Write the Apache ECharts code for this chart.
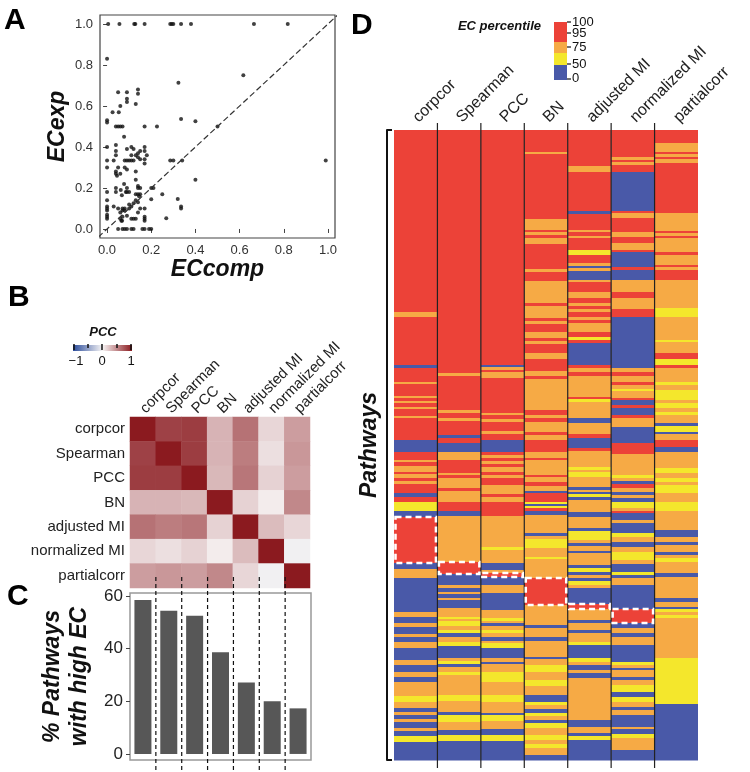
<!DOCTYPE html>
<html>
<head>
<meta charset="utf-8">
<script src="https://cdn.jsdelivr.net/npm/echarts@6/dist/echarts.min.js"></script>
<style>
html,body{margin:0;padding:0;background:#fff}
#main{width:750px;height:772px}
</style>
</head>
<body>
<div id="main"></div>
<script>
var FONT = '"Liberation Sans", Arial, Helvetica, sans-serif';
var chart = echarts.init(document.getElementById('main'));

// method names (panels B, C, D)
var methods = ['corpcor', 'Spearman', 'PCC', 'BN', 'adjusted MI', 'normalized MI', 'partialcorr'];

// panel A: ECcomp vs ECexp
var ecPoints = [
  [0.005,1],[0.056,1],[0.123,1],[0.128,1],[0.17,1],[0.286,1],[0.293,1],[0.30,1],[0.335,1],[0.38,1],[0.665,1],[0.818,1],
  [0,0.83],[0.323,0.714],[0.617,0.75],[0.335,0.536],[0.40,0.526],[0.5,0.5],[0.99,0.334],[0.40,0.24],[0.32,0.146],
  [0.335,0.11],[0.335,0.10],[0.268,0.052],[0.25,0.17],[0.286,0.334],[0.30,0.334],[0.226,0.5],[0.2,0.2],[0.21,0.2],
  [0.2,0.145],[0.2,0],[0.17,0],[0.16,0],[0.17,0.5],[0.34,0.334],
  [0,0.53],[0,0.52],[0,0.4],[0,0.334],[0,0.3],[0,0.18],[0,0.14],[0,0.11],[0,0.1],[0,0.09],[0,0.07],[0,0.06],[0,0.05],
  [0.025,0.57],[0.03,0.11],
  [0.04,0.41],[0.04,0.38],[0.04,0.36],[0.04,0.28],[0.04,0.27],[0.045,0.26],[0.04,0.2],[0.04,0.18],[0.04,0.5],[0.03,0.334],
  [0.05,0.667],[0.053,0.57],[0.05,0.5],[0.05,0.3],[0.05,0.1],[0.05,0],[0.06,0.6],[0.06,0.5],[0.06,0.27],[0.062,0.19],
  [0.06,0.08],[0.06,0.05],[0.065,0.04],
  [0.07,0.5],[0.07,0.1],[0.07,0.09],[0.07,0.06],[0.068,0.04],[0.07,0],[0.067,0.165],
  [0.077,0.45],[0.08,0.334],[0.08,0.3],[0.077,0.22],[0.08,0.1],[0.08,0.09],[0.08,0],[0.085,0.18],
  [0.09,0.667],[0.09,0.62],[0.09,0.635],[0.09,0.39],[0.09,0.334],[0.09,0.29],[0.09,0.2],[0.09,0.18],[0.09,0.065],[0.09,0],
  [0.1,0.334],[0.1,0.18],[0.1,0.12],[0.1,0.1],
  [0.11,0.4],[0.11,0.36],[0.11,0.334],[0.11,0.11],[0.11,0.05],[0.11,0],
  [0.12,0.39],[0.12,0.334],[0.12,0.125],[0.12,0.05],[0.12,0],
  [0.13,0.36],[0.13,0.61],[0.13,0.28],[0.13,0.24],[0.13,0.17],[0.13,0.14],[0.13,0.05],
  [0.14,0.68],[0.14,0.66],[0.14,0.37],[0.14,0.35],[0.14,0.21],[0.14,0.2],[0.14,0.17],[0.145,0.16],[0.14,0.13],[0.14,0.08],[0.15,0.38],
  [0.15,0.34],[0.15,0.2],[0.15,0.17],[0.15,0.1],
  [0.17,0.4],[0.17,0.38],[0.17,0.34],[0.17,0.32],[0.17,0.1],[0.17,0.06],[0.17,0.05],[0.17,0.04],
  [0.18,0.36],[0.19,0]
];
var diagLine = [[-0.1, -0.1], [1.1, 1.1]];
var unitTicks = [0, 0.2, 0.4, 0.6, 0.8, 1.0];

// panel B: PCC between methods
var pccCorpcor  = [1.00, 0.82, 0.84, 0.30, 0.60, 0.14, 0.40];
var pccSpearman = [0.82, 1.00, 0.84, 0.30, 0.55, 0.10, 0.43];
var pccPCC      = [0.84, 0.84, 1.00, 0.28, 0.58, 0.16, 0.40];
var pccBN       = [0.30, 0.30, 0.28, 1.00, 0.16, 0.04, 0.50];
var pccAdjMI    = [0.60, 0.55, 0.58, 0.16, 1.00, 0.26, 0.14];
var pccNormMI   = [0.14, 0.10, 0.16, 0.04, 0.26, 1.00, -0.03];
var pccPartial  = [0.40, 0.43, 0.40, 0.50, 0.14, -0.03, 1.00];
var pccRows = [pccCorpcor, pccSpearman, pccPCC, pccBN, pccAdjMI, pccNormMI, pccPartial];

// panel C: % pathways with high EC
var highEC = [58.4, 54.4, 52.5, 38.6, 27.1, 20.0, 17.3];
var pctTicks = [0, 20, 40, 60];

// panel D: EC percentile class per pathway, runs of [class, end row]
// class 0: 0-50, 1: 50-75, 2: 75-95, 3: 95-100
var colCorpcor = [[3,182],[2,187],[3,235],[0,238],[3,252],[2,254],[3,266],[2,268],[3,271],[2,273],[3,277],[2,279],[3,286],[2,288],[3,310],[0,322],[3,330],[2,332],[3,336],[2,342],[3,344],[2,348],[3,351],[2,354],[3,363],[0,367],[3,372],[1,381],[0,387],[3,433],[0,439],[2,448],[0,482],[2,487],[0,493],[2,497],[0,504],[2,507],[0,512],[2,518],[0,530],[2,535],[0,542],[2,547],[0,552],[2,566],[1,572],[2,578],[0,582],[2,585],[0,589],[2,592],[0,598],[2,601],[0,606],[1,612],[0,630]];
var colSpearman = [[3,243],[2,246],[3,280],[2,283],[3,288],[2,291],[3,305],[0,308],[3,313],[0,322],[2,330],[3,343],[2,345],[3,348],[2,358],[3,361],[2,372],[3,381],[0,386],[2,432],[3,444],[0,455],[2,458],[0,462],[2,464],[0,468],[2,470],[0,478],[2,487],[1,489],[2,491],[1,496],[2,500],[1,503],[0,507],[2,512],[1,516],[0,528],[2,531],[1,534],[0,537],[2,542],[1,545],[2,565],[1,571],[2,582],[0,585],[1,592],[2,600],[0,605],[1,611],[0,630]];
var colPCC = [[3,235],[0,237],[2,240],[3,242],[2,248],[3,283],[2,285],[3,289],[2,292],[3,301],[2,304],[3,310],[0,322],[3,325],[2,328],[3,331],[2,334],[3,337],[2,342],[3,345],[2,348],[3,355],[2,364],[3,367],[2,372],[3,386],[2,417],[1,420],[2,433],[0,440],[2,443],[3,447],[0,455],[2,463],[0,480],[2,488],[1,491],[2,493],[0,496],[2,500],[1,503],[2,507],[0,511],[2,513],[1,518],[0,528],[2,532],[0,534],[2,542],[1,552],[2,565],[1,572],[2,583],[0,585],[1,591],[2,599],[0,605],[1,611],[0,630]];
var colBN = [[3,22],[2,24],[3,89],[2,100],[3,102],[2,105],[3,108],[2,114],[3,139],[2,142],[3,151],[2,173],[3,176],[2,188],[3,191],[2,194],[3,202],[2,208],[3,211],[2,214],[3,223],[2,229],[3,241],[2,246],[3,249],[2,280],[3,285],[2,288],[3,292],[2,302],[3,305],[2,310],[3,322],[2,328],[3,330],[2,345],[3,347],[2,352],[3,356],[2,361],[0,363],[3,372],[1,374],[0,376],[1,378],[3,381],[0,385],[2,403],[0,406],[2,409],[1,418],[2,427],[1,429],[2,448],[3,475],[2,495],[0,498],[2,507],[0,511],[2,527],[0,529],[2,535],[1,542],[2,550],[1,556],[2,565],[0,572],[1,575],[2,579],[0,583],[1,586],[2,590],[0,593],[1,598],[2,605],[1,610],[2,614],[1,618],[2,625],[0,630]];
var colAdjMI = [[3,36],[2,42],[3,81],[0,84],[3,100],[2,102],[3,106],[2,108],[3,120],[1,125],[3,133],[2,136],[0,138],[2,141],[0,150],[2,152],[3,162],[2,168],[3,173],[2,176],[3,179],[2,182],[3,187],[2,190],[3,193],[2,202],[3,207],[1,210],[3,213],[0,235],[3,238],[2,242],[3,246],[2,267],[3,269],[1,272],[2,288],[0,293],[2,304],[3,308],[0,318],[3,321],[2,337],[1,340],[2,342],[1,347],[2,357],[0,360],[2,362],[0,364],[1,367],[0,370],[2,382],[0,387],[2,398],[0,401],[1,410],[2,413],[0,416],[2,421],[0,423],[2,435],[0,438],[1,442],[0,445],[2,448],[0,451],[1,455],[2,458],[0,474],[3,479],[2,490],[0,493],[2,500],[0,503],[2,512],[1,515],[0,528],[1,532],[2,535],[0,540],[2,543],[0,548],[2,590],[0,597],[2,603],[0,606],[1,610],[0,630]];
var colNormMI = [[3,27],[2,30],[3,32],[2,35],[3,42],[0,81],[3,83],[2,88],[3,102],[2,107],[3,113],[2,120],[3,122],[0,137],[3,140],[0,150],[2,162],[3,168],[2,179],[3,187],[0,238],[2,242],[3,246],[2,252],[3,255],[2,259],[1,261],[2,268],[3,270],[0,275],[3,278],[0,285],[3,288],[2,297],[0,313],[3,324],[2,345],[1,348],[2,351],[0,354],[3,358],[2,362],[0,365],[2,368],[0,372],[1,378],[2,381],[3,383],[0,390],[2,393],[0,403],[1,407],[2,412],[0,417],[2,422],[1,430],[2,434],[0,442],[1,445],[0,448],[2,455],[0,479],[3,493],[0,498],[2,503],[0,507],[2,515],[0,532],[1,535],[2,538],[0,540],[2,547],[0,550],[2,555],[1,562],[0,567],[1,572],[2,577],[0,580],[2,585],[0,597],[2,599],[0,604],[1,608],[2,620],[0,630]];
var colPartial = [[3,13],[2,22],[3,24],[2,27],[3,29],[2,33],[3,83],[2,101],[3,103],[2,106],[3,108],[2,122],[3,125],[2,135],[3,137],[2,140],[3,150],[2,178],[1,187],[2,210],[1,212],[2,223],[3,229],[1,235],[3,238],[2,252],[1,255],[2,260],[1,270],[2,273],[1,278],[2,282],[1,285],[2,293],[0,296],[1,302],[0,304],[2,310],[3,317],[0,322],[2,338],[1,343],[2,348],[1,352],[2,355],[1,363],[2,372],[1,381],[2,400],[0,407],[2,412],[0,415],[2,422],[0,425],[2,428],[1,432],[2,443],[0,447],[2,468],[0,472],[2,477],[0,479],[1,482],[2,485],[1,488],[2,528],[1,574],[0,630]];
var pathwayCols = [colCorpcor, colSpearman, colPCC, colBN, colAdjMI, colNormMI, colPartial];
var pathwayCount = 630;
// highlighted blocks: [column, first row, last row]
var bestBlocks = [[0,387,433],[1,432,444],[2,443,447],[3,448,475],[4,474,479],[5,479,493]];

var ecColors = ['#4959A8', '#F4E72C', '#F6AA45', '#EC4238'];

// build series data
var pccData = [];
pccRows.forEach(function (row, i) {
  row.forEach(function (v, j) { pccData.push([j, i, v]); });
});
var runData = [];
pathwayCols.forEach(function (runs, c) {
  var start = 0;
  runs.forEach(function (r) {
    runData.push([c, start, r[1], r[0]]);
    start = r[1];
  });
});
var gapData = [[0, 0], [1, 0], [2, 0], [3, 0], [4, 0], [5, 0]];

function renderRun(params, api) {
  var p0 = api.coord([api.value(0), api.value(1)]);
  var p1 = api.coord([api.value(0), api.value(2)]);
  var bw = api.size([1, 0])[0];
  return {
    type: 'rect',
    shape: {x: p0[0] - bw / 2, y: p0[1], width: bw, height: p1[1] - p0[1] + 0.5},
    style: {fill: ecColors[api.value(3)]}
  };
}
function renderBlock(params, api) {
  var p0 = api.coord([api.value(0), api.value(1)]);
  var p1 = api.coord([api.value(0), api.value(2)]);
  var bw = api.size([1, 0])[0];
  return {
    type: 'rect',
    shape: {x: p0[0] - bw / 2 + 1.5, y: p0[1], width: bw - 3, height: p1[1] - p0[1]},
    style: {fill: null, stroke: '#fff', lineWidth: 2.5, lineDash: [6, 4]}
  };
}
function makeSeparator(y0, y1, color, dash) {
  return function (params, api) {
    var bw = api.size([1, 0])[0];
    var a = api.coord([api.value(0), y0]);
    var b = api.coord([api.value(0), y1]);
    return {
      type: 'line',
      shape: {x1: a[0] + bw / 2, y1: a[1], x2: b[0] + bw / 2, y2: b[1]},
      style: {stroke: color, lineWidth: 1.2, lineDash: dash}
    };
  };
}

var bigItalic = {fontFamily: FONT, fontStyle: 'italic', fontWeight: 'bold', fontSize: 23, color: '#111'};

var option = {
  animation: false,
  backgroundColor: '#fff',
  textStyle: {fontFamily: FONT},
  grid: [
    {left: 100, top: 15, width: 235, height: 223, show: true, borderColor: '#444', borderWidth: 1.2},
    {left: 130, top: 417, width: 180, height: 171},
    {left: 130, top: 593, width: 181, height: 167, show: true, borderColor: '#999', borderWidth: 1.5},
    {left: 394, top: 130, width: 304, height: 630}
  ],
  xAxis: [
    {gridIndex: 0, type: 'value', min: -0.032, max: 1.032,
      name: 'ECcomp', nameLocation: 'middle', nameGap: 17, nameTextStyle: bigItalic,
      axisLine: {show: false}, splitLine: {show: false},
      axisTick: {show: true, length: 4, customValues: unitTicks, lineStyle: {color: '#444'}},
      axisLabel: {customValues: unitTicks, margin: 6, fontSize: 13, color: '#333',
        formatter: function (v) { return v.toFixed(1); }}},
    {gridIndex: 1, type: 'category', position: 'top', data: methods,
      axisLine: {show: false}, axisTick: {show: false},
      axisLabel: {interval: 0, rotate: -45, fontSize: 15, color: '#222', margin: 6}},
    {gridIndex: 2, type: 'category', data: methods,
      axisLine: {show: false}, axisTick: {show: false}, axisLabel: {show: false}},
    {gridIndex: 3, type: 'category', position: 'top', data: methods,
      axisLine: {show: false}, axisTick: {show: false},
      axisLabel: {interval: 0, rotate: 45, fontSize: 16, color: '#222', margin: 10}}
  ],
  yAxis: [
    {gridIndex: 0, type: 'value', min: -0.044, max: 1.044,
      name: 'ECexp', nameLocation: 'middle', nameGap: 31, nameRotate: 90, nameTextStyle: bigItalic,
      axisLine: {show: false}, splitLine: {show: false},
      axisTick: {show: true, length: 4, customValues: unitTicks, lineStyle: {color: '#444'}},
      axisLabel: {customValues: unitTicks, margin: 7, fontSize: 13, color: '#333',
        formatter: function (v) { return v.toFixed(1); }}},
    {gridIndex: 1, type: 'category', inverse: true, data: methods,
      axisLine: {show: false}, axisTick: {show: false},
      axisLabel: {interval: 0, fontSize: 15, color: '#222', margin: 5}},
    {gridIndex: 2, type: 'value', min: -2.3, max: 61.1,
      name: '% Pathways\nwith high EC', nameLocation: 'middle', nameGap: 37, nameRotate: 90,
      nameTextStyle: Object.assign({}, bigItalic, {lineHeight: 27}),
      axisLine: {show: false}, splitLine: {show: false},
      axisTick: {show: true, length: 4, customValues: pctTicks, lineStyle: {color: '#444'}},
      axisLabel: {customValues: pctTicks, margin: 7, fontSize: 17, color: '#222'}},
    {gridIndex: 3, type: 'value', min: 0, max: pathwayCount, inverse: true, offset: 7,
      name: 'Pathways', nameLocation: 'middle', nameGap: 6, nameRotate: 90, nameTextStyle: bigItalic,
      axisLine: {show: true, lineStyle: {color: '#111', width: 2}},
      axisTick: {show: true, inside: true, length: 5, customValues: [0, pathwayCount], lineStyle: {color: '#111', width: 2}},
      axisLabel: {show: false}, splitLine: {show: false}}
  ],
  visualMap: {
    show: false, seriesIndex: 2, min: -1, max: 1, calculable: false,
    inRange: {color: ['#2B4C9B', '#F7F5F5', '#8B1A1F']}
  },
  series: [
    {type: 'scatter', xAxisIndex: 0, yAxisIndex: 0, data: ecPoints, symbolSize: 4,
      itemStyle: {color: '#111'}, silent: true},
    {type: 'line', xAxisIndex: 0, yAxisIndex: 0, data: diagLine, symbol: 'none', clip: true, silent: true,
      lineStyle: {color: '#333', width: 1.2, type: [6, 3]}},
    {type: 'heatmap', xAxisIndex: 1, yAxisIndex: 1, data: pccData, silent: true,
      emphasis: {disabled: true}},
    {type: 'bar', xAxisIndex: 2, yAxisIndex: 2, data: highEC, barWidth: 17, silent: true,
      itemStyle: {color: '#575757'}},
    {type: 'custom', xAxisIndex: 2, yAxisIndex: 2, data: gapData, z: 10, clip: false, silent: true,
      renderItem: makeSeparator(67.2, -6.9, '#111', [4, 3])},
    {type: 'custom', xAxisIndex: 3, yAxisIndex: 3, data: runData, silent: true,
      renderItem: renderRun},
    {type: 'custom', xAxisIndex: 3, yAxisIndex: 3, data: gapData, z: 5, clip: false, silent: true,
      renderItem: makeSeparator(-7, pathwayCount + 8, '#222', null)},
    {type: 'custom', xAxisIndex: 3, yAxisIndex: 3, data: bestBlocks, z: 6, silent: true,
      renderItem: renderBlock}
  ],
  graphic: [
    // panel letters
    {type: 'text', left: 4, top: 6, style: {text: 'A', font: 'bold 30px ' + FONT, fill: '#000'}},
    {type: 'text', left: 8, top: 283, style: {text: 'B', font: 'bold 30px ' + FONT, fill: '#000'}},
    {type: 'text', left: 7, top: 582, style: {text: 'C', font: 'bold 30px ' + FONT, fill: '#000'}},
    {type: 'text', left: 351, top: 11, style: {text: 'D', font: 'bold 30px ' + FONT, fill: '#000'}},
    // PCC colour key
    {type: 'text', x: 103, y: 332, style: {text: 'PCC', font: 'italic bold 13px ' + FONT, fill: '#111', align: 'center', verticalAlign: 'middle'}},
    {type: 'rect', shape: {x: 73, y: 345, width: 59, height: 6},
      style: {fill: new echarts.graphic.LinearGradient(0, 0, 1, 0, [
        {offset: 0, color: '#2B4C9B'}, {offset: 0.5, color: '#F7F5F5'}, {offset: 1, color: '#8B1A1F'}])}},
    {type: 'line', shape: {x1: 74, y1: 344, x2: 74, y2: 350}, style: {stroke: '#111', lineWidth: 1.5}},
    {type: 'line', shape: {x1: 88, y1: 344, x2: 88, y2: 348}, style: {stroke: '#111', lineWidth: 1.5}},
    {type: 'line', shape: {x1: 102, y1: 344, x2: 102, y2: 350}, style: {stroke: '#111', lineWidth: 1.5}},
    {type: 'line', shape: {x1: 117, y1: 344, x2: 117, y2: 348}, style: {stroke: '#111', lineWidth: 1.5}},
    {type: 'line', shape: {x1: 131, y1: 344, x2: 131, y2: 350}, style: {stroke: '#111', lineWidth: 1.5}},
    {type: 'text', x: 76, y: 361, style: {text: '\u22121', font: '13px ' + FONT, fill: '#111', align: 'center', verticalAlign: 'middle'}},
    {type: 'text', x: 102, y: 361, style: {text: '0', font: '13px ' + FONT, fill: '#111', align: 'center', verticalAlign: 'middle'}},
    {type: 'text', x: 131, y: 361, style: {text: '1', font: '13px ' + FONT, fill: '#111', align: 'center', verticalAlign: 'middle'}},
    // EC percentile key
    {type: 'text', x: 541, y: 26, style: {text: 'EC percentile', font: 'italic bold 13px ' + FONT, fill: '#111', align: 'right', verticalAlign: 'middle'}},
    {type: 'rect', shape: {x: 554, y: 22, width: 13, height: 20}, style: {fill: ecColors[3]}},
    {type: 'rect', shape: {x: 554, y: 42, width: 13, height: 11}, style: {fill: ecColors[2]}},
    {type: 'rect', shape: {x: 554, y: 53, width: 13, height: 12}, style: {fill: ecColors[1]}},
    {type: 'rect', shape: {x: 554, y: 65, width: 13, height: 15}, style: {fill: ecColors[0]}},
    {type: 'line', shape: {x1: 567, y1: 22, x2: 571, y2: 22}, style: {stroke: '#111', lineWidth: 1.2}},
    {type: 'line', shape: {x1: 567, y1: 33, x2: 571, y2: 33}, style: {stroke: '#111', lineWidth: 1.2}},
    {type: 'line', shape: {x1: 567, y1: 47, x2: 571, y2: 47}, style: {stroke: '#111', lineWidth: 1.2}},
    {type: 'line', shape: {x1: 567, y1: 64, x2: 571, y2: 64}, style: {stroke: '#111', lineWidth: 1.2}},
    {type: 'line', shape: {x1: 567, y1: 79, x2: 571, y2: 79}, style: {stroke: '#111', lineWidth: 1.2}},
    {type: 'text', x: 572, y: 22, style: {text: '100', font: '13px ' + FONT, fill: '#111', verticalAlign: 'middle'}},
    {type: 'text', x: 572, y: 33, style: {text: '95', font: '13px ' + FONT, fill: '#111', verticalAlign: 'middle'}},
    {type: 'text', x: 572, y: 47, style: {text: '75', font: '13px ' + FONT, fill: '#111', verticalAlign: 'middle'}},
    {type: 'text', x: 572, y: 64, style: {text: '50', font: '13px ' + FONT, fill: '#111', verticalAlign: 'middle'}},
    {type: 'text', x: 572, y: 78, style: {text: '0', font: '13px ' + FONT, fill: '#111', verticalAlign: 'middle'}}
  ]
};
chart.setOption(option);
</script>
</body>
</html>
